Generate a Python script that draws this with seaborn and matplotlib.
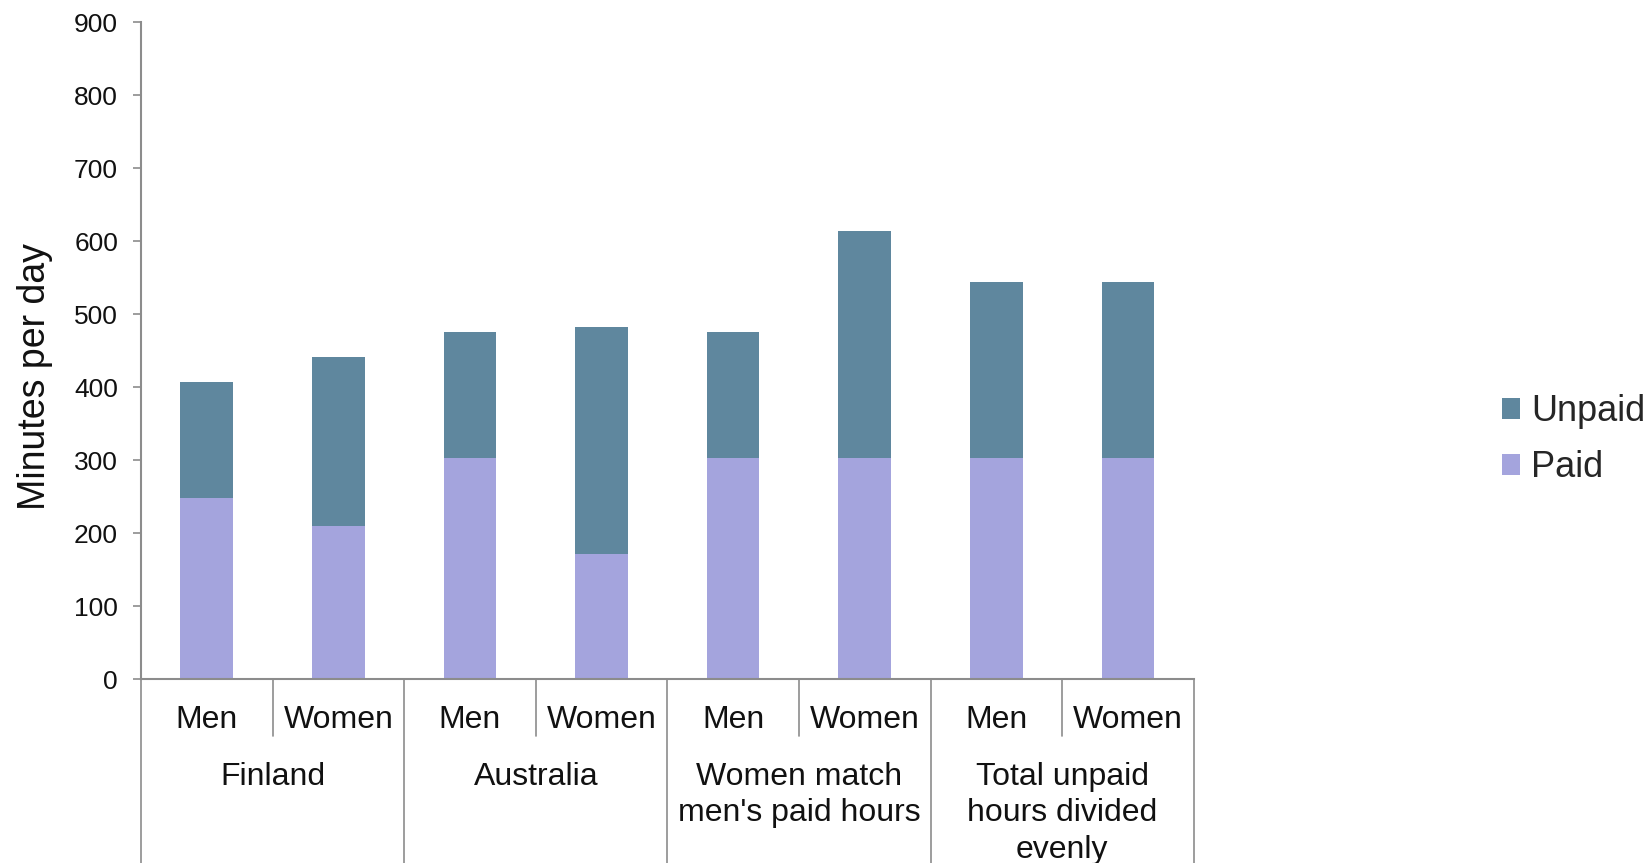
import matplotlib
matplotlib.use("Agg")
import matplotlib.pyplot as plt
import matplotlib.transforms as mtransforms
from matplotlib.patches import Patch
import seaborn as sns
import pandas as pd

# --- data -------------------------------------------------------------
groups = ["Finland", "Australia", "Women match\nmen's paid hours",
          "Total unpaid\nhours divided\nevenly"]
sexes = ["Men", "Women"]
paid = [249, 210, 303, 172, 303, 303, 303, 303]
unpaid = [158, 232, 172, 311, 172, 311, 241.5, 241.5]

yticks = [0, 100, 200, 300, 400, 500, 600, 700, 800, 900]

unpaid_color = "#5F879E"
paid_color = "#A4A4DD"
axis_color = "#8C8C8C"

# --- table ------------------------------------------------------------
rows = []
for gi, g in enumerate(groups):
    for si, s in enumerate(sexes):
        i = gi * len(sexes) + si
        rows.append({"key": f"{gi}-{s}", "group": g, "sex": s,
                     "paid": paid[i], "unpaid": unpaid[i],
                     "total": paid[i] + unpaid[i]})
df = pd.DataFrame(rows)
order = list(df["key"])

sns.set_theme(style="white")
plt.rcParams["font.family"] = ["Liberation Sans", "DejaVu Sans"]

fig = plt.figure(figsize=(16.49, 8.63), dpi=100)
ax = fig.add_axes([0.0855, 0.2128, 0.6384, 0.7616])

# stacked bars: full total in the unpaid colour, paid part drawn over it
sns.barplot(data=df, x="key", y="total", order=order, color=unpaid_color,
            width=0.4, saturation=1, ax=ax, linewidth=0)
sns.barplot(data=df, x="key", y="paid", order=order, color=paid_color,
            width=0.4, saturation=1, ax=ax, linewidth=0)

n = len(order)
ax.set_xlim(-0.5, n - 0.5)
ax.set_ylim(0, 900)
ax.set_yticks(yticks)
ax.set_yticklabels([str(t) for t in yticks], fontsize=19, color="#111111")
ax.tick_params(axis="y", length=5.5, width=1.2, color=axis_color, pad=11,
               left=True)
ax.tick_params(axis="x", length=0, labelbottom=False)
ax.set_xlabel("")

for side in ["top", "right"]:
    ax.spines[side].set_visible(False)
for side in ["left", "bottom"]:
    ax.spines[side].set_color(axis_color)
    ax.spines[side].set_linewidth(1.5)

ax.set_ylabel("Minutes per day", fontsize=27, color="#111111")
ax.yaxis.set_label_coords(-0.084, 0.461)

# --- two-level category axis -----------------------------------------
trans = mtransforms.blended_transform_factory(ax.transData, ax.transAxes)
fig_bottom = -0.2793
inner_bottom = -0.0864
per = len(sexes)
for gi in range(len(groups) + 1):
    xb = gi * per - 0.5
    ax.plot([xb, xb], [0, fig_bottom], transform=trans, color=axis_color,
            lw=1.2, clip_on=False)
for gi in range(len(groups)):
    for si in range(1, per):
        xb = gi * per + si - 0.5
        ax.plot([xb, xb], [0, inner_bottom], transform=trans,
                color=axis_color, lw=1.2, clip_on=False)

for i, s in enumerate(df["sex"]):
    ax.text(i, -0.0625, s, transform=trans, ha="center", va="center",
            fontsize=23, color="#111111")
for gi, g in enumerate(groups):
    xc = gi * per + (per - 1) / 2
    ax.text(xc, -0.1255, g, transform=trans, ha="center", va="top",
            fontsize=23, color="#111111", linespacing=1.28)

# --- legend ------------------------------------------------------------
handles = [Patch(facecolor=unpaid_color, edgecolor="none", label="Unpaid"),
           Patch(facecolor=paid_color, edgecolor="none", label="Paid")]
fig.legend(handles=handles, loc="center left",
           bbox_to_anchor=(0.9108, 0.4905), frameon=False, fontsize=26,
           handlelength=0.5, handleheight=0.5, handletextpad=0.3,
           labelspacing=0.58, borderpad=0, borderaxespad=0)

fig.savefig("out.png", dpi=100)
